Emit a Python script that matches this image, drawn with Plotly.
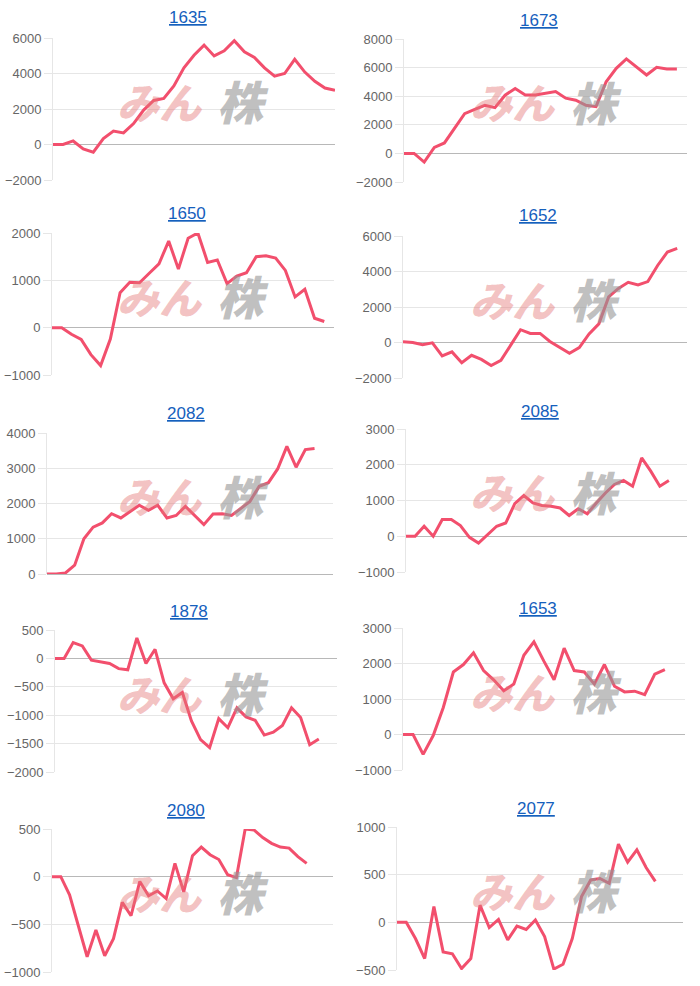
import plotly.graph_objects as go

# ---- data ----
titles = ["1635", "1673", "1650", "1652", "2082", "2085", "1878", "1653", "2080", "2077"]

s1635 = [0, 0, 200, -250, -430, 330, 760, 650, 1180, 1940, 2480, 2600, 3300, 4320, 5030,
         5600, 4990, 5280, 5850, 5220, 4900, 4320, 3850, 4000, 4800, 4080, 3560, 3180, 3050]
s1673 = [0, 0, -610, 420, 730, 1720, 2780, 3080, 3360, 3200, 4070, 4540, 4090, 4090, 4190,
         4330, 3860, 3720, 3360, 3270, 5010, 5950, 6610, 6070, 5480, 6020, 5910, 5910]
s1650 = [0, 0, -140, -250, -570, -800, -240, 740, 960, 950, 1150, 1350, 1830, 1240, 1890,
         2000, 1380, 1430, 930, 1090, 1160, 1500, 1520, 1470, 1210, 650, 810, 200, 130]
s1652 = [40, 0, -130, -20, -760, -530, -1140, -720, -950, -1300, -1010, -150, 720, 510, 510,
         60, -290, -610, -290, 480, 1050, 2570, 3050, 3390, 3240, 3430, 4340, 5100, 5300]
s2082 = [0, 0, 30, 250, 1000, 1330, 1450, 1710, 1590, 1780, 1950, 1810, 1950, 1590, 1660,
         1920, 1660, 1400, 1700, 1710, 1660, 1850, 2060, 2490, 2590, 2980, 3620, 3030, 3530, 3560]
s2085 = [0, 0, 280, 0, 470, 470, 300, -30, -190, 50, 280, 370, 910, 1140, 930,
         860, 840, 790, 580, 770, 630, 930, 1210, 1450, 1560, 1400, 2190, 1820, 1400, 1560]
s1878 = [0, 0, 280, 220, -30, -60, -90, -180, -200, 360, -90, 160, -430, -710, -600,
         -1100, -1430, -1570, -1060, -1220, -870, -1030, -1090, -1350, -1300, -1180, -870, -1040, -1520, -1420]
s1653 = [0, 0, -560, -30, 760, 1760, 1970, 2300, 1800, 1540, 1230, 1420, 2230, 2610, 2060,
         1540, 2430, 1800, 1760, 1420, 1970, 1360, 1200, 1220, 1120, 1700, 1830]
s2080 = [0, 0, -190, -510, -840, -560, -830, -650, -270, -410, -50, -200, -150, -230, 140,
         -160, 220, 310, 230, 180, 20, -10, 500, 490, 410, 350, 310, 300, 210, 140]
s2077 = [0, 0, -170, -380, 165, -310, -330, -485, -380, 180, -55, 30, -185, -40, -75,
         25, -150, -490, -440, -170, 270, 445, 460, 410, 820, 630, 760, 575, 430]

series = [s1635, s1673, s1650, s1652, s2082, s2085, s1878, s1653, s2080, s2077]
n_labels = [29, 29, 30, 30, 32, 32, 32, 29, 33, 32]
y_ranges = [(-2000, 6000), (-2000, 8000), (-1000, 2000), (-2000, 6000), (0, 4000),
            (-1000, 3000), (-2000, 500), (-1000, 3000), (-1000, 500), (-500, 1000)]
y_dticks = [2000, 2000, 1000, 2000, 1000, 1000, 500, 1000, 500, 500]

# ---- layout geometry (pixels) ----
W, H = 700, 986
boxes = [  # x0, x1, top, bottom
    (53, 335, 38, 180), (404, 687, 39, 182),
    (52, 334, 233, 375), (403, 687, 236, 378),
    (47, 333, 433, 574), (406, 687, 429, 572),
    (55, 337, 630, 772), (403, 685, 628, 770),
    (52, 333, 829, 972), (397, 683, 827, 970),
]
title_pos = [(188, 18), (539, 21), (187, 214), (538, 216), (186, 413),
             (540, 411), (189, 611), (538, 608), (186, 810), (536, 808)]

LINE = "#f24f6d"
fig = go.Figure()
layout = dict(
    template="none",
    width=W, height=H, autosize=False, margin=dict(l=0, r=0, t=0, b=0, pad=0, autoexpand=False),
    paper_bgcolor="white", plot_bgcolor="white", showlegend=False,
    font=dict(family="Liberation Sans, Arial, sans-serif", color="#666666", size=13),
)
annotations = []

for i, (name, vals) in enumerate(zip(titles, series)):
    k = "" if i == 0 else str(i + 1)
    x0, x1, top, bottom = boxes[i]
    fig.add_trace(go.Scatter(
        x=list(range(len(vals))), y=vals, mode="lines",
        line=dict(color=LINE, width=3), xaxis="x" + k, yaxis="y" + k,
        hoverinfo="y",
    ))
    layout["xaxis" + k] = dict(
        domain=[x0 / W, x1 / W], range=[0, n_labels[i] - 1], anchor="y" + k,
        showgrid=False, showticklabels=False, zeroline=False, showline=False,
        ticks="", automargin=False, fixedrange=True,
    )
    layout["yaxis" + k] = dict(
        domain=[1 - bottom / H, 1 - top / H], range=list(y_ranges[i]), anchor="x" + k,
        dtick=y_dticks[i], tick0=0, showgrid=True, gridcolor="#e6e6e6", gridwidth=1,
        zeroline=True, zerolinecolor="#b8b8b8", zerolinewidth=1,
        showline=True, linecolor="#e6e6e6", linewidth=1,
        ticks="outside", ticklen=8, tickcolor="#e6e6e6", automargin=False,
        tickfont=dict(size=13, color="#666666"), fixedrange=True,
    )
    tx, ty = title_pos[i]
    annotations.append(dict(
        text="<u>" + name + "</u>", x=tx / W, y=1 - ty / H, xref="paper", yref="paper",
        xanchor="center", yanchor="middle", showarrow=False,
        font=dict(size=17, color="#1560bd", family="Liberation Sans, Arial, sans-serif"),
    ))
    # watermark approximation (logo image in the original)
    wx = 205 if i % 2 == 0 else 558
    wy = top + 62
    annotations.append(dict(
        text="<i>みん</i>", x=(wx - 45) / W, y=1 - wy / H, xref="paper", yref="paper",
        xanchor="center", yanchor="middle", showarrow=False,
        font=dict(size=42, color="rgba(228,120,120,0.45)", family="Noto Sans CJK JP", weight=900),
    ))
    annotations.append(dict(
        text="<i>株</i>", x=(wx + 38) / W, y=1 - wy / H, xref="paper", yref="paper",
        xanchor="center", yanchor="middle", showarrow=False,
        font=dict(size=46, color="rgba(150,150,150,0.6)", family="Noto Sans CJK JP", weight=900),
    ))

layout["annotations"] = annotations
fig.update_layout(**layout)
fig.write_html("out.html", config={"displayModeBar": False},
               post_script="document.body.style.margin='0';")
